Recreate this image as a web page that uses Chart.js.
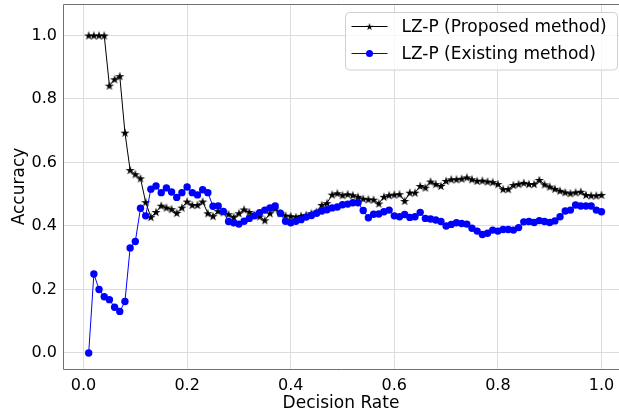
<!DOCTYPE html>
<html>
<head>
<meta charset="utf-8">
<script src="https://cdn.jsdelivr.net/npm/chart.js@4.4.1/dist/chart.umd.min.js"></script>
<style>
  html, body { margin: 0; padding: 0; background: #fff; overflow: hidden; }
  canvas { display: block; }
</style>
</head>
<body>
<canvas id="chart" width="619" height="412"></canvas>
<script>
// Decision rate (x) shared by both series
const decisionRate = [
  0.01, 0.02, 0.03, 0.04, 0.05, 0.06, 0.07, 0.08, 0.09, 0.10,
  0.11, 0.12, 0.13, 0.14, 0.15, 0.16, 0.17, 0.18, 0.19, 0.20,
  0.21, 0.22, 0.23, 0.24, 0.25, 0.26, 0.27, 0.28, 0.29, 0.30,
  0.31, 0.32, 0.33, 0.34, 0.35, 0.36, 0.37, 0.38, 0.39, 0.40,
  0.41, 0.42, 0.43, 0.44, 0.45, 0.46, 0.47, 0.48, 0.49, 0.50,
  0.51, 0.52, 0.53, 0.54, 0.55, 0.56, 0.57, 0.58, 0.59, 0.60,
  0.61, 0.62, 0.63, 0.64, 0.65, 0.66, 0.67, 0.68, 0.69, 0.70,
  0.71, 0.72, 0.73, 0.74, 0.75, 0.76, 0.77, 0.78, 0.79, 0.80,
  0.81, 0.82, 0.83, 0.84, 0.85, 0.86, 0.87, 0.88, 0.89, 0.90,
  0.91, 0.92, 0.93, 0.94, 0.95, 0.96, 0.97, 0.98, 0.99, 1.00
];

// Accuracy of LZ-P, proposed method
const proposedAccuracy = [
  1.000, 1.000, 1.000, 1.000, 0.842, 0.862, 0.872, 0.694, 0.576, 0.563,
  0.550, 0.475, 0.428, 0.444, 0.464, 0.458, 0.453, 0.441, 0.458, 0.477,
  0.466, 0.466, 0.477, 0.440, 0.431, 0.447, 0.443, 0.437, 0.428, 0.440,
  0.452, 0.444, 0.436, 0.430, 0.418, 0.440, 0.455, 0.440, 0.433, 0.431,
  0.428, 0.432, 0.435, 0.440, 0.445, 0.466, 0.472, 0.499, 0.503, 0.497,
  0.500, 0.497, 0.492, 0.486, 0.484, 0.483, 0.471, 0.492, 0.497, 0.499,
  0.500, 0.479, 0.505, 0.505, 0.526, 0.521, 0.540, 0.532, 0.526, 0.542,
  0.547, 0.547, 0.549, 0.553, 0.547, 0.542, 0.543, 0.540, 0.538, 0.532,
  0.516, 0.516, 0.529, 0.532, 0.536, 0.532, 0.532, 0.545, 0.531, 0.524,
  0.517, 0.511, 0.506, 0.503, 0.506, 0.508, 0.498, 0.496, 0.496, 0.498
];

// Accuracy of LZ-P, existing method
const existingAccuracy = [
  0.000, 0.249, 0.200, 0.177, 0.168, 0.144, 0.131, 0.162, 0.331, 0.351,
  0.456, 0.432, 0.516, 0.526, 0.505, 0.520, 0.507, 0.490, 0.505, 0.523,
  0.505, 0.498, 0.514, 0.505, 0.462, 0.463, 0.446, 0.414, 0.410, 0.406,
  0.415, 0.424, 0.432, 0.442, 0.450, 0.457, 0.463, 0.440, 0.415, 0.410,
  0.415, 0.420, 0.428, 0.433, 0.440, 0.447, 0.451, 0.457, 0.460, 0.467,
  0.469, 0.473, 0.473, 0.449, 0.426, 0.437, 0.438, 0.445, 0.450, 0.432,
  0.429, 0.436, 0.427, 0.429, 0.443, 0.424, 0.422, 0.419, 0.414, 0.400,
  0.405, 0.410, 0.408, 0.406, 0.393, 0.384, 0.373, 0.377, 0.387, 0.384,
  0.389, 0.389, 0.387, 0.395, 0.413, 0.414, 0.411, 0.417, 0.414, 0.411,
  0.416, 0.429, 0.447, 0.450, 0.466, 0.463, 0.463, 0.463, 0.450, 0.445
];

const seriesLabels = ['LZ-P (Proposed method)', 'LZ-P (Existing method)'];
const xTickValues = [0.0, 0.2, 0.4, 0.6, 0.8, 1.0];
const yTickValues = [0.0, 0.2, 0.4, 0.6, 0.8, 1.0];

const FONT = 'DejaVu Sans';

// Filled five-pointed star used as the marker of the proposed method
function makeStar(size, color) {
  const c = document.createElement('canvas');
  c.width = c.height = size;
  const g = c.getContext('2d');
  const cx = size / 2, cy = size / 2 + 0.4;
  const R = size / 2 - 0.2, r = R * 0.382;
  g.beginPath();
  for (let k = 0; k < 10; k++) {
    const a = -Math.PI / 2 + k * Math.PI / 5;
    const rad = k % 2 ? r : R;
    g.lineTo(cx + rad * Math.cos(a), cy + rad * Math.sin(a));
  }
  g.closePath();
  g.fillStyle = color;
  g.fill();
  return c;
}
const starMarker = makeStar(10, '#000000');

const toPoints = (xs, ys) => xs.map((x, i) => ({ x: x, y: ys[i] }));

// Axes frame: left, bottom and top spines
const framePlugin = {
  id: 'frame',
  afterDatasetsDraw(chart) {
    const { ctx, chartArea: a } = chart;
    ctx.save();
    ctx.strokeStyle = '#707070';
    ctx.lineWidth = 1;
    ctx.beginPath();
    ctx.moveTo(chart.width, a.top + 0.5);
    ctx.lineTo(a.left + 0.5, a.top + 0.5);
    ctx.lineTo(a.left + 0.5, a.bottom + 0.5);
    ctx.lineTo(chart.width, a.bottom + 0.5);
    ctx.stroke();
    ctx.restore();
  }
};

// Legend box in the upper right corner of the plot
const legendPlugin = {
  id: 'cornerLegend',
  afterDraw(chart) {
    const { ctx } = chart;
    const x0 = 345.5, y0 = 12.5, w = 272, h = 57.5, rad = 4;
    ctx.save();
    ctx.beginPath();
    ctx.moveTo(x0 + rad, y0);
    ctx.lineTo(x0 + w - rad, y0);
    ctx.arcTo(x0 + w, y0, x0 + w, y0 + rad, rad);
    ctx.lineTo(x0 + w, y0 + h - rad);
    ctx.arcTo(x0 + w, y0 + h, x0 + w - rad, y0 + h, rad);
    ctx.lineTo(x0 + rad, y0 + h);
    ctx.arcTo(x0, y0 + h, x0, y0 + h - rad, rad);
    ctx.lineTo(x0, y0 + rad);
    ctx.arcTo(x0, y0, x0 + rad, y0, rad);
    ctx.closePath();
    ctx.fillStyle = 'rgba(255,255,255,0.8)';
    ctx.fill();
    ctx.strokeStyle = '#d0d0d0';
    ctx.lineWidth = 1;
    ctx.stroke();

    const rows = [
      { y: 26.5, color: '#000000', star: true },
      { y: 53.5, color: '#0000ff', star: false }
    ];
    rows.forEach((row, i) => {
      ctx.strokeStyle = row.color;
      ctx.lineWidth = 1;
      ctx.beginPath();
      ctx.moveTo(351.5, row.y);
      ctx.lineTo(387.5, row.y);
      ctx.stroke();
      if (row.star) {
        ctx.drawImage(starMarker, 369.5 - 4, row.y - 4, 8, 8);
      } else {
        ctx.beginPath();
        ctx.arc(369.5, row.y, 3.5, 0, Math.PI * 2);
        ctx.fillStyle = row.color;
        ctx.fill();
      }
      ctx.fillStyle = '#000';
      ctx.font = '17px "' + FONT + '"';
      ctx.textBaseline = 'middle';
      ctx.textAlign = 'left';
      ctx.fillText(seriesLabels[i], 401.5, row.y + 1);
    });
    ctx.restore();
  }
};

new Chart(document.getElementById('chart'), {
  type: 'line',
  data: {
    datasets: [
      {
        label: seriesLabels[0],
        data: toPoints(decisionRate, proposedAccuracy),
        borderColor: '#000000',
        backgroundColor: '#000000',
        borderWidth: 1,
        pointStyle: starMarker,
        pointRadius: 4,
        tension: 0,
        order: 2
      },
      {
        label: seriesLabels[1],
        data: toPoints(decisionRate, existingAccuracy),
        borderColor: '#0000ff',
        backgroundColor: '#0000ff',
        borderWidth: 1,
        pointStyle: 'circle',
        pointRadius: 3.7,
        pointBorderWidth: 0,
        tension: 0,
        order: 1
      }
    ]
  },
  options: {
    responsive: false,
    animation: false,
    devicePixelRatio: 1,
    layout: { autoPadding: false, padding: { top: 4, right: 0, bottom: 0, left: 0 } },
    plugins: { legend: { display: false }, tooltip: { enabled: false } },
    scales: {
      x: {
        type: 'linear',
        min: -0.0396,
        max: 1.0338,
        afterBuildTicks: s => { s.ticks = xTickValues.map(v => ({ value: v })); },
        afterFit: s => { s.height = 43; s.paddingLeft = 0; s.paddingRight = 0; },
        ticks: {
          callback: v => Number(v).toFixed(1),
          font: { family: FONT, size: 16 },
          color: '#000',
          padding: 7,
          maxRotation: 0,
          autoSkip: false
        },
        grid: { color: '#dcdcdc', lineWidth: 1, drawTicks: false },
        border: { display: false },
        title: {
          display: true,
          text: 'Decision Rate',
          font: { family: FONT, size: 17 },
          color: '#000',
          padding: { top: 0, bottom: -2 }
        }
      },
      y: {
        type: 'linear',
        min: -0.0504,
        max: 1.0992,
        afterBuildTicks: s => { s.ticks = yTickValues.map(v => ({ value: v })); },
        afterFit: s => { s.width = 63; s.paddingTop = 0; s.paddingBottom = 0; },
        ticks: {
          callback: v => Number(v).toFixed(1),
          font: { family: FONT, size: 16 },
          color: '#000',
          padding: 6,
          autoSkip: false
        },
        grid: { color: '#dcdcdc', lineWidth: 1, drawTicks: false },
        border: { display: false },
        title: {
          display: true,
          text: 'Accuracy',
          font: { family: FONT, size: 17 },
          color: '#000',
          padding: { top: 9, bottom: 0 }
        }
      }
    }
  },
  plugins: [framePlugin, legendPlugin]
});
</script>
</body>
</html>
